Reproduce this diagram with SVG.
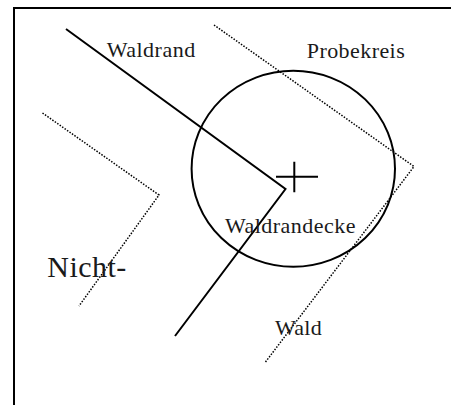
<svg xmlns="http://www.w3.org/2000/svg" width="451" height="405" viewBox="0 0 451 405">
<style>
.solid{fill:none;stroke:#000;stroke-width:2}
.dot{fill:none;stroke:#000;stroke-width:1.5;stroke-dasharray:1.5 1.5}
.t{font-family:"Liberation Serif","Times New Roman",serif;font-size:22px;fill:#1a1a1a}
</style>
<rect width="451" height="405" fill="#fff"/>
<g id="frame"><path class="solid" d="M14,405 V8 H451"/></g>
<g id="connectors">
<polyline id="waldrand-line" class="solid" points="66,29 285.5,189 175,336"/>
<polyline id="dotted-right" class="dot" points="214,25 414,166.5 265.5,362"/>
<polyline id="dotted-left" class="dot" points="42.5,113 159,195 79,306"/>
</g>
<g id="probekreis"><ellipse class="solid" cx="293.3" cy="168.7" rx="101.7" ry="98"/></g>
<g id="center"><path class="solid" d="M276,176.7 H318 M294.3,161.7 V192.3"/></g>
<g id="labels">
<text class="t" x="106.7" y="56.7" textLength="88.5">Waldrand</text>
<text class="t" x="306.7" y="58.3" textLength="98">Probekreis</text>
<text class="t" x="47.3" y="276.7" style="font-size:30px" textLength="79">Nicht-</text>
<text class="t" x="225" y="233.3" textLength="130.5">Waldrandecke</text>
<text class="t" x="275" y="335" textLength="46.7">Wald</text>
</g>
</svg>
